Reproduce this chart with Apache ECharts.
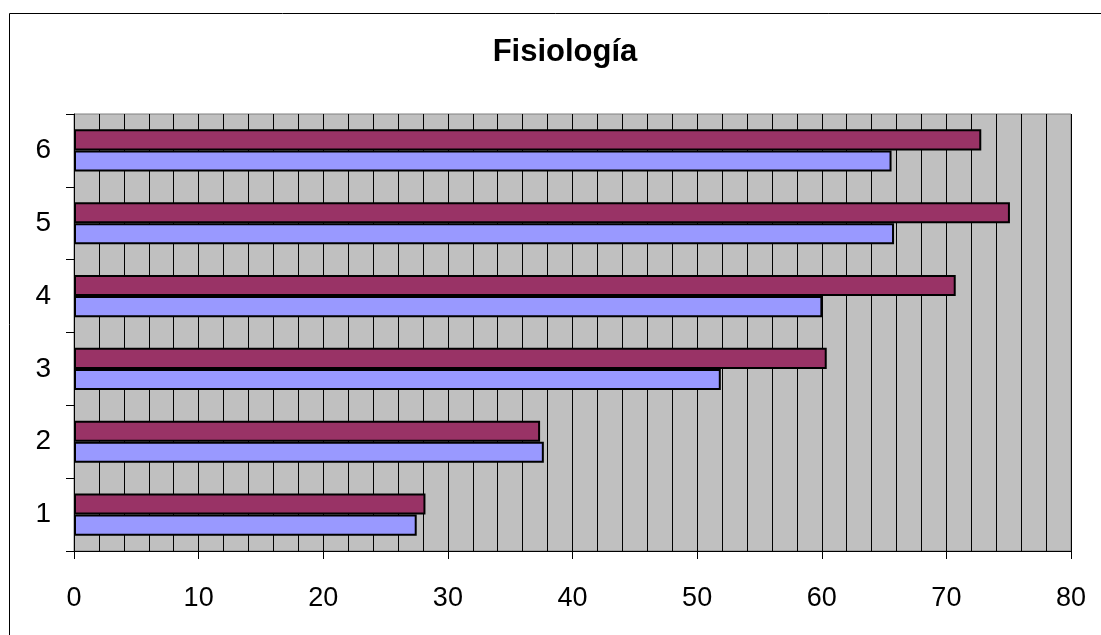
<!DOCTYPE html>
<html>
<head>
<meta charset="utf-8">
<script src="https://cdn.jsdelivr.net/npm/echarts@6/dist/echarts.min.js"></script>
<style>
html,body{margin:0;padding:0;background:#fff;}
#chart{width:1101px;height:635px;}
</style>
</head>
<body>
<div id="chart"></div>
<script>
const categories = ['1', '2', '3', '4', '5', '6'];
const seriesBlue = [27.5, 37.7, 51.9, 60.05, 65.8, 65.6];
const seriesPurple = [28.2, 37.4, 60.4, 70.75, 75.1, 72.8];
const titleText = 'Fisiología';

const chart = echarts.init(document.getElementById('chart'), null, {renderer: 'canvas'});
const font = '"Liberation Sans", Arial, sans-serif';
chart.setOption({
  animation: false,
  backgroundColor: '#ffffff',
  title: {
    text: titleText,
    left: 560,
    top: 32,
    textAlign: 'center',
    textStyle: {fontFamily: font, fontWeight: 'bold', fontSize: 31, color: '#000'}
  },
  graphic: [{
    type: 'rect',
    shape: {x: 9.5, y: 13.5, width: 1110, height: 640},
    style: {fill: 'none', stroke: '#000', lineWidth: 1},
    silent: true,
    z: -10
  }],
  grid: {
    left: 74, top: 114, width: 997, height: 437,
    show: true, backgroundColor: '#C0C0C0', borderColor: '#808080', borderWidth: 1
  },
  xAxis: {
    type: 'value',
    min: 0, max: 80, interval: 10,
    axisLine: {show: true, lineStyle: {color: '#000', width: 1}},
    axisTick: {show: true, length: 8, lineStyle: {color: '#000'}},
    axisLabel: {fontFamily: font, fontSize: 27, color: '#000', margin: 34},
    splitLine: {show: true, lineStyle: {color: '#000', width: 1}},
    minorTick: {show: false, splitNumber: 5},
    minorSplitLine: {show: true, lineStyle: {color: '#000', width: 1}}
  },
  yAxis: {
    type: 'category',
    data: categories,
    axisLine: {show: true, lineStyle: {color: '#000', width: 1}},
    axisTick: {show: true, length: 8, lineStyle: {color: '#000'}},
    axisLabel: {fontFamily: font, fontSize: 28, color: '#000', margin: 23},
    splitLine: {show: false}
  },
  series: [
    {
      name: 'Serie 2', type: 'bar', data: seriesPurple,
      barGap: '0%', barCategoryGap: '42%',
      itemStyle: {color: '#993366', borderColor: '#000', borderWidth: 2}
    },
    {
      name: 'Serie 1', type: 'bar', data: seriesBlue,
      barGap: '0%', barCategoryGap: '42%',
      itemStyle: {color: '#9999FF', borderColor: '#000', borderWidth: 2}
    }
  ]
});
</script>
</body>
</html>
